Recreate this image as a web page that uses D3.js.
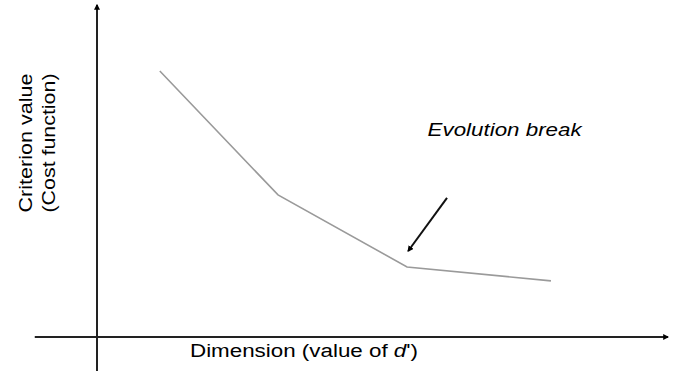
<!DOCTYPE html>
<html>
<head>
<meta charset="utf-8">
<script src="https://cdn.jsdelivr.net/npm/d3@7"></script>
<style>
  body { margin: 0; background: #fff; }
  text { font-family: "Liberation Sans", Arial, sans-serif; fill: #000; }
</style>
</head>
<body>
<svg id="graph" width="686" height="371"></svg>
<script>
// values (arbitrary units, no ticks on the original)
var dims = [1.1, 3.17, 5.43, 7.95];
var criterion = [8.01, 4.28, 2.11, 1.69];

// annotation
var noteText = "Evolution break";
var notePos = [5.79, 6.05];
var noteArrow = [[6.13, 4.19], [5.45, 2.59]];

var xTitle = ["Dimension (value of ", "d", "')"];
var yTitle = ["Criterion value", "(Cost function)"];

var svg = d3.select("#graph");

var x = d3.scaleLinear().domain([0, 10]).range([97, 668]);
var y = d3.scaleLinear().domain([0, 10]).range([337, 5]);

var defs = svg.append("defs");
defs.append("marker")
    .attr("id", "head")
    .attr("viewBox", "0 0 10 10")
    .attr("refX", 8)
    .attr("refY", 5)
    .attr("markerWidth", 3)
    .attr("markerHeight", 3)
    .attr("orient", "auto")
    .append("path")
    .attr("d", "M0,0L10,5L0,10Z")
    .attr("fill", "#000");

// axes (no ticks, just the two arrows)
svg.append("line")
    .attr("x1", x(-1.09)).attr("y1", y(0))
    .attr("x2", x(10)).attr("y2", y(0))
    .attr("stroke", "#222").attr("stroke-width", 2)
    .attr("marker-end", "url(#head)");

svg.append("line")
    .attr("x1", x(0)).attr("y1", 371)
    .attr("x2", x(0)).attr("y2", y(10))
    .attr("stroke", "#222").attr("stroke-width", 2)
    .attr("marker-end", "url(#head)");

// curve
var line = d3.line()
    .x(function(d, i) { return x(d); })
    .y(function(d, i) { return y(criterion[i]); });

svg.append("path")
    .datum(dims)
    .attr("d", line)
    .attr("fill", "none")
    .attr("stroke", "#9a9a9a")
    .attr("stroke-width", 1.6);

// arrow pointing to the break
svg.append("line")
    .attr("x1", x(noteArrow[0][0])).attr("y1", y(noteArrow[0][1]))
    .attr("x2", x(noteArrow[1][0])).attr("y2", y(noteArrow[1][1]))
    .attr("stroke", "#111").attr("stroke-width", 2)
    .attr("marker-end", "url(#head)");

svg.append("text")
    .attr("x", x(notePos[0]))
    .attr("y", y(notePos[1]))
    .attr("textLength", 154)
    .attr("lengthAdjust", "spacingAndGlyphs")
    .style("font-size", "18px")
    .style("font-style", "italic")
    .text(noteText);

// x title
var xt = svg.append("text")
    .attr("x", 190)
    .attr("y", 357)
    .attr("textLength", 228)
    .attr("lengthAdjust", "spacingAndGlyphs")
    .style("font-size", "18px");
xt.append("tspan").text(xTitle[0]);
xt.append("tspan").style("font-style", "italic").text(xTitle[1]);
xt.append("tspan").text(xTitle[2]);

// y title, two lines
svg.selectAll(".ytitle")
    .data(yTitle)
    .enter()
    .append("text")
    .attr("class", "ytitle")
    .attr("transform", function(d, i) {
        return "translate(" + (32 + i * 23) + ",143) rotate(-90)";
    })
    .attr("text-anchor", "middle")
    .attr("textLength", 139)
    .attr("lengthAdjust", "spacingAndGlyphs")
    .style("font-size", "18px")
    .text(function(d) { return d; });
</script>
</body>
</html>
